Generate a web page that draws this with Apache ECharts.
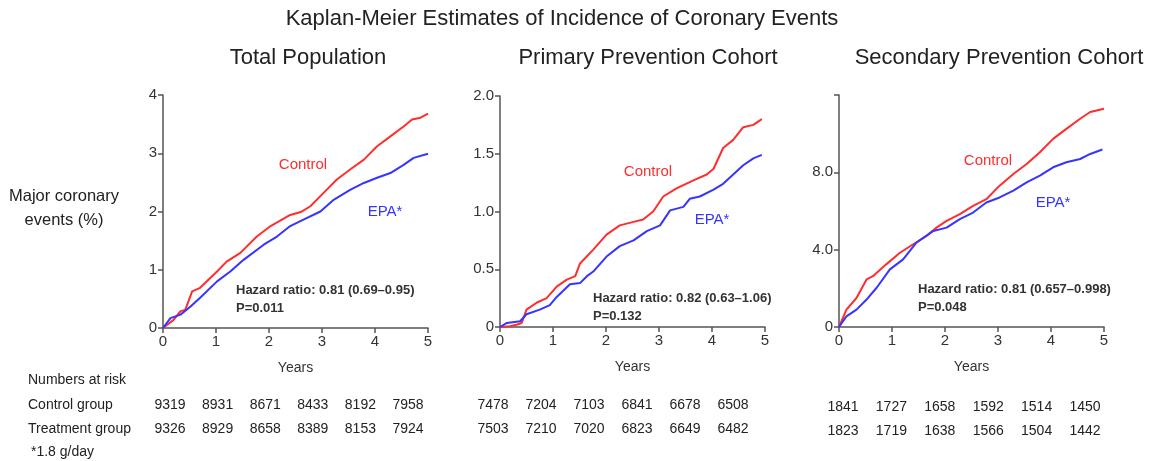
<!DOCTYPE html>
<html>
<head>
<meta charset="utf-8">
<script src="https://cdn.jsdelivr.net/npm/echarts@6/dist/echarts.min.js"></script>
<style>
  html, body { margin: 0; padding: 0; background: #fff; }
  #main { width: 1153px; height: 461px; }
</style>
</head>
<body>
<div id="main"></div>
<script>
// Kaplan-Meier curves, [years, % with event]
var totalControl = [[0,0],[0.2,0.14],[0.33,0.29],[0.42,0.31],[0.55,0.63],[0.7,0.69],[1.02,0.97],[1.2,1.14],[1.46,1.29],[1.77,1.57],[2.03,1.75],[2.4,1.94],[2.6,1.99],[2.78,2.09],[3.03,2.32],[3.28,2.55],[3.53,2.72],[3.79,2.89],[4.04,3.12],[4.29,3.29],[4.54,3.46],[4.7,3.58],[4.86,3.61],[5,3.68]];
var totalEpa = [[0,0],[0.14,0.17],[0.33,0.23],[0.52,0.37],[0.7,0.52],[1.02,0.8],[1.27,0.97],[1.52,1.17],[1.9,1.43],[2.15,1.57],[2.4,1.75],[2.65,1.86],[2.97,2.0],[3.22,2.2],[3.53,2.37],[3.79,2.49],[4.04,2.58],[4.29,2.66],[4.54,2.8],[4.73,2.92],[5,2.99]];
var primaryControl = [[0,0],[0.19,0.006],[0.31,0.02],[0.41,0.035],[0.5,0.15],[0.69,0.21],[0.88,0.25],[1.07,0.35],[1.26,0.41],[1.42,0.44],[1.51,0.55],[1.76,0.67],[2.01,0.8],[2.26,0.88],[2.52,0.91],[2.7,0.93],[2.89,1.0],[3.08,1.13],[3.33,1.2],[3.65,1.27],[3.9,1.32],[4.03,1.37],[4.21,1.55],[4.4,1.62],[4.59,1.73],[4.78,1.75],[4.94,1.8]];
var primaryEpa = [[0,0],[0.13,0.035],[0.38,0.05],[0.5,0.11],[0.75,0.15],[0.94,0.19],[1.07,0.26],[1.32,0.37],[1.51,0.38],[1.64,0.44],[1.76,0.48],[2.01,0.61],[2.26,0.7],[2.52,0.75],[2.77,0.83],[3.02,0.88],[3.21,1.01],[3.46,1.04],[3.58,1.11],[3.77,1.13],[4.03,1.19],[4.21,1.24],[4.4,1.32],[4.59,1.4],[4.78,1.46],[4.94,1.49]];
var secondaryControl = [[0,0],[0.14,0.9],[0.33,1.5],[0.52,2.46],[0.64,2.63],[0.89,3.24],[1.15,3.84],[1.4,4.28],[1.65,4.71],[1.84,5.14],[2.03,5.49],[2.28,5.84],[2.53,6.27],[2.78,6.61],[3.03,7.31],[3.29,7.91],[3.54,8.43],[3.79,9.04],[4.04,9.73],[4.29,10.25],[4.55,10.77],[4.74,11.12],[5,11.29]];
var secondaryEpa = [[0,0],[0.14,0.55],[0.33,0.9],[0.52,1.42],[0.71,2.03],[0.96,2.98],[1.21,3.5],[1.46,4.36],[1.78,4.97],[2.03,5.14],[2.28,5.58],[2.53,5.92],[2.78,6.44],[3.03,6.7],[3.29,7.05],[3.54,7.48],[3.79,7.83],[4.04,8.26],[4.29,8.52],[4.55,8.69],[4.74,8.95],[4.97,9.18]];

// numbers at risk at years 0..5
var riskTotalControl = [9319, 8931, 8671, 8433, 8192, 7958];
var riskTotalTreat = [9326, 8929, 8658, 8389, 8153, 7924];
var riskPrimaryControl = [7478, 7204, 7103, 6841, 6678, 6508];
var riskPrimaryTreat = [7503, 7210, 7020, 6823, 6649, 6482];
var riskSecondaryControl = [1841, 1727, 1658, 1592, 1514, 1450];
var riskSecondaryTreat = [1823, 1719, 1638, 1566, 1504, 1442];

var panelTitles = ['Total Population', 'Primary Prevention Cohort', 'Secondary Prevention Cohort'];
var hazardTexts = ['0.81 (0.69\u20130.95)', '0.82 (0.63\u20131.06)', '0.81 (0.657\u20130.998)'];
var pValues = ['P=0.011', 'P=0.132', 'P=0.048'];

var chart = echarts.init(document.getElementById('main'));
var font = 'Liberation Sans, Arial, sans-serif';
var red = '#ff2d2d', blue = '#3535ff', axisColor = '#555';

var grids = [
  {left: 163, top: 95, width: 265, height: 233},
  {left: 500, top: 96, width: 265, height: 231},
  {left: 839, top: 95, width: 265, height: 232}
];

var yCfg = [
  {max: 4, interval: 1, fmt: function (v) { return String(v); }},
  {max: 2, interval: 0.5, fmt: function (v) { return v === 0 ? '0' : v.toFixed(1); }},
  {max: 12, interval: 4, fmt: function (v) { return v === 0 ? '0' : (v === 12 ? '' : v.toFixed(1)); }}
];

var xAxes = [], yAxes = [];
grids.forEach(function (g, i) {
  xAxes.push({
    gridIndex: i, type: 'value', min: 0, max: 5, interval: 1,
    axisLine: {lineStyle: {color: axisColor, width: 1.5}},
    axisTick: {length: 5, lineStyle: {color: axisColor, width: 1.5}},
    axisLabel: {color: '#333', fontSize: 15, fontFamily: font, margin: 6},
    splitLine: {show: false},
    name: 'Years', nameLocation: 'middle', nameGap: 33,
    nameTextStyle: {color: '#333', fontSize: 14, fontFamily: font}
  });
  yAxes.push({
    gridIndex: i, type: 'value', min: 0, max: yCfg[i].max, interval: yCfg[i].interval,
    axisLine: {show: true, lineStyle: {color: axisColor, width: 1.5}},
    axisTick: {show: true, length: 5, lineStyle: {color: axisColor, width: 1.5}},
    axisLabel: {color: '#333', fontSize: 15, fontFamily: font, margin: 6, formatter: yCfg[i].fmt},
    splitLine: {show: false}
  });
});

function line(data, color, idx) {
  return {
    type: 'line', xAxisIndex: idx, yAxisIndex: idx, data: data,
    showSymbol: false, symbol: 'none',
    lineStyle: {color: color, width: 2}
  };
}

var graphics = [];
function txt(x, y, s, opt) {
  opt = opt || {};
  graphics.push({
    type: 'text', x: x, y: y,
    style: {
      text: s, fill: opt.color || '#222', fontSize: opt.size || 14,
      fontFamily: font, fontWeight: opt.weight || 'normal',
      textAlign: opt.align || 'left', textVerticalAlign: 'middle'
    }
  });
}

txt(562, 19, 'Kaplan-Meier Estimates of Incidence of Coronary Events', {size: 22, align: 'center'});
var titleX = [308, 648, 999];
panelTitles.forEach(function (t, i) { txt(titleX[i], 58, t, {size: 22, align: 'center'}); });

txt(64, 196, 'Major coronary', {size: 16.5, align: 'center'});
txt(64, 220, 'events (%)', {size: 16.5, align: 'center'});

// curve labels
txt(303, 165, 'Control', {size: 15, color: red, align: 'center'});
txt(385, 212, 'EPA*', {size: 15, color: blue, align: 'center'});
txt(648, 172, 'Control', {size: 15, color: red, align: 'center'});
txt(712, 220, 'EPA*', {size: 15, color: blue, align: 'center'});
txt(988, 161, 'Control', {size: 15, color: red, align: 'center'});
txt(1053, 203, 'EPA*', {size: 15, color: blue, align: 'center'});

// hazard ratio boxes
var hzPos = [[236, 290], [593, 298], [918, 289]];
hzPos.forEach(function (p, i) {
  txt(p[0], p[1], 'Hazard ratio: ' + hazardTexts[i], {size: 13, weight: 'bold', color: '#333'});
  txt(p[0], p[1] + 18, pValues[i], {size: 13, weight: 'bold', color: '#333'});
});

// numbers at risk
txt(28, 380, 'Numbers at risk', {size: 14});
txt(28, 405, 'Control group', {size: 14});
txt(28, 429, 'Treatment group', {size: 14});
txt(31, 452, '*1.8 g/day', {size: 14});

var riskRows = [
  {vals: riskTotalControl, x0: 170, step: 47.6, y: 405},
  {vals: riskTotalTreat, x0: 170, step: 47.6, y: 429},
  {vals: riskPrimaryControl, x0: 493, step: 48, y: 405},
  {vals: riskPrimaryTreat, x0: 493, step: 48, y: 429},
  {vals: riskSecondaryControl, x0: 843, step: 48.4, y: 407},
  {vals: riskSecondaryTreat, x0: 843, step: 48.4, y: 431}
];
riskRows.forEach(function (r) {
  r.vals.forEach(function (v, k) { txt(r.x0 + k * r.step, r.y, String(v), {size: 14, align: 'center'}); });
});

var option = {
  backgroundColor: '#fff',
  animation: false,
  grid: grids,
  xAxis: xAxes,
  yAxis: yAxes,
  series: [
    line(totalControl, red, 0), line(totalEpa, blue, 0),
    line(primaryControl, red, 1), line(primaryEpa, blue, 1),
    line(secondaryControl, red, 2), line(secondaryEpa, blue, 2)
  ],
  graphic: graphics
};
chart.setOption(option);
</script>
</body>
</html>
